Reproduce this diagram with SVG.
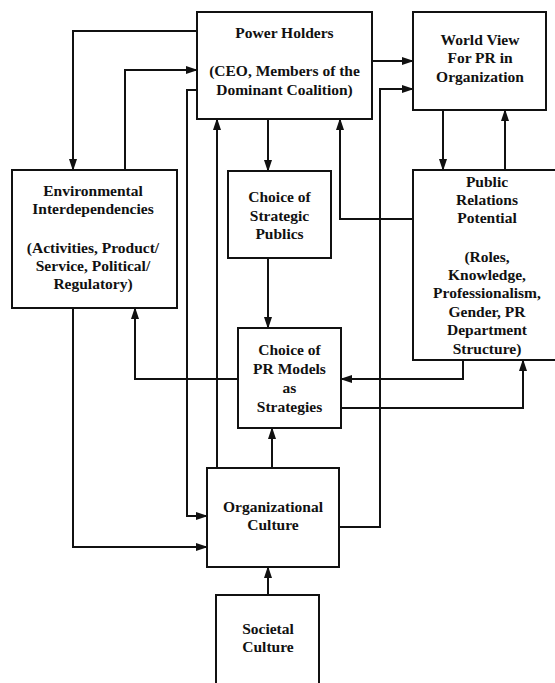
<svg xmlns="http://www.w3.org/2000/svg" width="555" height="683" viewBox="0 0 555 683">
<style>
.box{fill:#fff;stroke:#111;stroke-width:2}
.t{font-family:"Liberation Serif","Times New Roman",serif;font-weight:bold;font-size:15.5px;fill:#111;text-anchor:middle}
.c{fill:none;stroke:#111;stroke-width:2;marker-end:url(#ah)}
</style>
<defs>
<marker id="ah" markerUnits="userSpaceOnUse" markerWidth="12" markerHeight="8" refX="11" refY="4" orient="auto">
<path d="M0,0 L12,4 L0,8 z" fill="#111"/>
</marker>
</defs>
<rect width="555" height="683" fill="#fff"/>
<g id="connectors">
<path class="c" d="M197,31 H73 V170"/>
<path class="c" d="M125,170 V70 H197"/>
<path class="c" d="M197,90 H187 V516 H207"/>
<path class="c" d="M217,468 V119"/>
<path class="c" d="M268,119 V171"/>
<path class="c" d="M268,258 V328"/>
<path class="c" d="M372,61 H413"/>
<path class="c" d="M339,527 H380 V89 H413"/>
<path class="c" d="M443,110 V170"/>
<path class="c" d="M505,170 V110"/>
<path class="c" d="M413,219 H340 V119"/>
<path class="c" d="M463,360 V379 H341"/>
<path class="c" d="M341,408 H523 V360"/>
<path class="c" d="M238,379 H135 V308"/>
<path class="c" d="M73,308 V547 H207"/>
<path class="c" d="M272,468 V428"/>
<path class="c" d="M268,595 V567"/>
</g>
<g id="power-holders">
<rect class="box" x="197" y="12" width="175" height="107"/>
<text class="t" x="284.5" y="38">Power Holders</text>
<text class="t" x="284.5" y="76">(CEO, Members of the</text>
<text class="t" x="284.5" y="95">Dominant Coalition)</text>
</g>
<g id="world-view">
<rect class="box" x="413" y="12" width="133" height="98"/>
<text class="t" x="480" y="45">World View</text>
<text class="t" x="480" y="63">For PR in</text>
<text class="t" x="480" y="82">Organization</text>
</g>
<g id="environmental">
<rect class="box" x="12" y="170" width="165" height="138"/>
<text class="t" x="93" y="196">Environmental</text>
<text class="t" x="93" y="214">Interdependencies</text>
<text class="t" x="93" y="253">(Activities, Product/</text>
<text class="t" x="93" y="271">Service, Political/</text>
<text class="t" x="93" y="289">Regulatory)</text>
</g>
<g id="strategic-publics">
<rect class="box" x="228" y="171" width="103" height="87"/>
<text class="t" x="279.5" y="202">Choice of</text>
<text class="t" x="279.5" y="221">Strategic</text>
<text class="t" x="279.5" y="239">Publics</text>
</g>
<g id="pr-potential">
<rect class="box" x="413" y="170" width="150" height="190"/>
<text class="t" x="487" y="187">Public</text>
<text class="t" x="487" y="205">Relations</text>
<text class="t" x="487" y="223">Potential</text>
<text class="t" x="487" y="262">(Roles,</text>
<text class="t" x="487" y="280">Knowledge,</text>
<text class="t" x="487" y="298">Professionalism,</text>
<text class="t" x="487" y="317">Gender, PR</text>
<text class="t" x="487" y="335">Department</text>
<text class="t" x="487" y="354">Structure)</text>
</g>
<g id="pr-models">
<rect class="box" x="238" y="328" width="103" height="100"/>
<text class="t" x="289.5" y="355">Choice of</text>
<text class="t" x="289.5" y="374">PR Models</text>
<text class="t" x="289.5" y="393">as</text>
<text class="t" x="289.5" y="412">Strategies</text>
</g>
<g id="org-culture">
<rect class="box" x="207" y="468" width="132" height="99"/>
<text class="t" x="273" y="512">Organizational</text>
<text class="t" x="273" y="530">Culture</text>
</g>
<g id="societal-culture">
<rect class="box" x="216" y="595" width="103" height="95"/>
<text class="t" x="268" y="634">Societal</text>
<text class="t" x="268" y="652">Culture</text>
</g>
</svg>
